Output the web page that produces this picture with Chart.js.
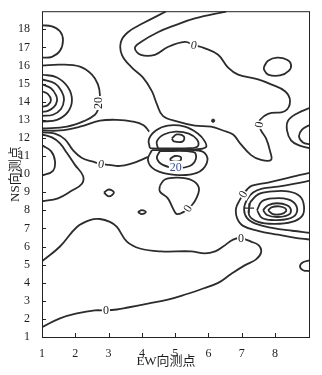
<!DOCTYPE html>
<html>
<head>
<meta charset="utf-8">
<script src="https://cdn.jsdelivr.net/npm/chart.js@4.4.1/dist/chart.umd.min.js"></script>
<style>
  html, body { margin: 0; padding: 0; background: #fff; }
  #wrap { width: 322px; height: 375px; }
</style>
</head>
<body>
<div id="wrap"><canvas id="chart" width="322" height="375"></canvas></div>
<script>
// axis ticks
const xTicks = [1, 2, 3, 4, 5, 6, 7, 8];
const yTicks = [1, 2, 3, 4, 5, 6, 7, 8, 9, 10, 11, 12, 13, 14, 15, 16, 17, 18];

// contour lines as [EW, NS] points
const loopTopLeft = [[1,18.22],[1.30,18.16],[1.54,17.89],[1.63,17.40],[1.54,16.81],[1.30,16.48],[1,16.43]];
const ringB = [[1,15.99],[1.54,16.05],[2.14,15.94],[2.50,15.50],[2.68,14.96],[2.74,14.36],[2.70,13.93],[2.68,13.55],[2.59,13.28],[2.29,12.95],[1.75,12.62],[1,12.52]];
const ellN1 = [[1,15.50],[1.45,15.34],[1.78,14.80],[1.90,14.09],[1.78,13.44],[1.45,13.00],[1,12.90]];
const ellN2 = [[1,15.23],[1.39,15.01],[1.60,14.53],[1.66,14.09],[1.57,13.60],[1.33,13.28],[1,13.22]];
const ellN3 = [[1,14.96],[1.27,14.74],[1.42,14.36],[1.45,14.04],[1.36,13.71],[1.18,13.49],[1,13.44]];
const ellN4 = [[1,14.58],[1.18,14.42],[1.27,14.09],[1.18,13.82],[1,13.71]];
const lineE = [[1,12.41],[1.54,12.41],[2.14,12.62],[2.74,12.95],[3.25,13.00],[3.73,12.90],[4.05,12.70],[4.22,12.35]];
const lineF = [[1,12.30],[1.39,12.24],[1.69,11.92],[1.93,11.32],[2.20,10.89],[2.56,10.67],[2.77,10.56],[3.01,10.51],[3.34,10.45],[3.73,10.61],[4.00,10.80],[4.18,10.95]];
const loopG = [[1,11.59],[1.27,11.27],[1.39,10.72],[1.33,10.18],[1,9.91]];
const loopH = [[1,12.19],[1.30,12.03],[1.54,11.70],[1.75,11.16],[1.99,10.51],[2.23,9.91],[2.20,9.47],[1.90,9.09],[1.48,8.66],[1,8.50]];
const lineTop = [[4.72,18.98],[4.03,18.33],[3.58,17.84],[3.37,17.30],[3.40,16.59],[3.70,15.88],[4.03,15.34],[4.30,14.58],[4.45,13.87],[4.63,13.22],[5.08,12.90],[5.59,12.68],[6.08,12.62],[6.44,12.41],[6.74,12.19],[6.95,11.70],[7.28,11.05],[7.58,10.78],[7.88,10.78],[7.85,11.27],[7.73,11.97],[7.58,12.41],[7.52,12.73],[7.55,13.00],[7.79,13.33],[8.30,13.49],[8.45,14.04],[8.30,14.58],[7.88,14.96],[7.49,15.23],[6.89,15.50],[6.59,15.88],[6.29,16.59],[5.86,16.97],[5.56,17.13],[5.29,17.30],[4.78,17.02],[4.39,16.59],[3.97,16.59],[3.79,16.97],[3.97,17.30],[4.48,17.84],[4.99,18.22],[5.59,18.60],[6.53,18.98]];
const loopTopRight = [[7.67,15.94],[7.79,16.26],[8.06,16.43],[8.36,16.32],[8.48,16.05],[8.42,15.72],[8.15,15.45],[7.79,15.50],[7.67,15.77],[7.67,15.94]];
const arcR1 = [[9.05,13.66],[8.69,13.38],[8.39,12.95],[8.36,12.41],[8.48,11.86],[8.72,11.59],[9.05,11.43]];
const arcR2 = [[9.05,12.73],[8.81,12.46],[8.72,12.08],[8.84,11.75],[9.05,11.65]];
const lobeU1 = [[4.24,11.43],[4.21,11.92],[4.42,12.41],[4.78,12.68],[5.29,12.62],[5.68,12.24],[5.89,11.81],[5.92,11.48],[5.59,11.37],[4.84,11.37],[4.24,11.43]];
const lobeU2 = [[4.48,11.43],[4.45,11.81],[4.66,12.19],[5.02,12.35],[5.41,12.24],[5.65,11.92],[5.68,11.54],[5.44,11.43],[4.48,11.43]];
const lobeU3 = [[4.90,11.97],[5.05,12.19],[5.26,12.08],[5.23,11.81],[4.96,11.81],[4.90,11.97]];
const lobeD1 = [[4.30,11.32],[4.18,10.78],[4.39,10.24],[4.99,9.96],[5.65,10.07],[5.95,10.61],[5.89,11.16],[5.59,11.32],[4.30,11.32]];
const lobeD2 = [[4.54,11.27],[4.45,10.89],[4.63,10.51],[5.02,10.34],[5.44,10.45],[5.62,10.83],[5.56,11.21],[4.54,11.27]];
const lobeD3 = [[4.84,10.83],[4.99,11.00],[5.17,10.94],[5.14,10.72],[4.90,10.72],[4.84,10.83]];
const loopMid = [[4.54,9.36],[4.69,9.70],[5.08,9.80],[5.50,9.66],[5.71,9.26],[5.65,8.71],[5.50,8.28],[5.29,7.95],[5.05,7.79],[4.93,8.12],[4.78,8.66],[4.54,9.04],[4.54,9.36]];
const loopSmall = [[3.88,7.90],[4.00,8.01],[4.12,7.90],[4.00,7.79],[3.88,7.90]];
const loopDiamond = [[2.86,8.98],[3.01,9.15],[3.16,8.98],[3.01,8.77],[2.86,8.98]];
const ringR1 = [[9.05,10.07],[8.75,9.96],[8.30,9.75],[7.79,9.53],[7.31,9.36],[7.16,9.15],[7.04,8.88],[6.95,8.60],[6.83,8.12],[6.86,7.57],[7.04,7.14],[7.49,6.87],[8.09,6.65],[8.57,6.49],[9.05,6.38]];
const ringR2 = [[9.05,9.64],[8.60,9.47],[8.09,9.31],[7.61,9.20],[7.34,8.98],[7.16,8.60],[7.07,8.06],[7.16,7.57],[7.43,7.25],[7.91,7.03],[8.51,6.87],[9.05,6.76]];
const ringR3 = [[7.25,8.44],[7.49,8.88],[7.91,9.04],[8.39,9.04],[8.75,8.77],[8.87,8.22],[8.81,7.68],[8.51,7.36],[8.00,7.25],[7.49,7.36],[7.22,7.74],[7.25,8.44]];
const ringR4 = [[7.46,8.01],[7.61,8.50],[7.97,8.66],[8.39,8.60],[8.63,8.28],[8.63,7.79],[8.39,7.52],[7.97,7.46],[7.61,7.57],[7.46,8.01]];
const ringR5 = [[7.64,8.01],[7.79,8.28],[8.06,8.39],[8.36,8.28],[8.48,8.01],[8.39,7.74],[8.06,7.63],[7.76,7.74],[7.64,8.01]];
const ringR6 = [[7.79,8.01],[7.91,8.17],[8.12,8.22],[8.30,8.12],[8.33,7.95],[8.18,7.79],[7.94,7.79],[7.79,8.01]];
const tongue = [[1,5.18],[1.54,6.00],[2.05,7.08],[2.44,7.46],[2.74,7.52],[3.04,7.36],[3.25,7.08],[3.55,6.27],[3.94,5.89],[4.57,5.73],[5.47,5.73],[5.89,5.62],[6.20,5.73],[6.44,6.00],[6.74,6.38],[6.98,6.45],[7.28,6.27],[7.52,6.05],[7.58,5.67],[7.43,5.29],[7.10,4.97],[6.68,4.48],[6.29,3.99],[5.74,3.61],[5.38,3.39],[4.78,3.06],[4.18,2.85],[3.58,2.63],[3.25,2.52],[2.92,2.47],[2.59,2.47],[2.05,2.30],[1.54,2.03],[1,1.54]];
const arcEdge = [[9.05,5.24],[8.84,5.13],[8.75,4.91],[8.84,4.69],[9.05,4.64]];

const contours = [loopTopLeft, ringB, ellN1, ellN2, ellN3, ellN4, lineE, lineF, loopG, loopH,
  lineTop, loopTopRight, arcR1, arcR2, lobeU1, lobeU2, lobeU3, lobeD1, lobeD2, lobeD3,
  loopMid, loopSmall, loopDiamond, ringR1, ringR2, ringR3, ringR4, ringR5, ringR6, tongue, arcEdge];

const tinyDots = [[6.14,12.95]];
const crossMarks = [[7.22,8.12]];

// contour labels
const labelText = ['20', '0', '0', '20', '0', '0', '0', '0', '0'];
const labelX = [2.70, 5.56, 2.77, 5.02, 7.52, 5.38, 7.04, 6.98, 2.92];
const labelY = [13.93, 17.13, 10.56, 10.40, 12.73, 8.10, 8.88, 6.45, 2.47];
const labelAngle = [-90, 0, 0, 0, -80, -60, -60, 0, 0];

const lineColor = '#2c2c2c';
const serif = "'Liberation Serif', 'Times New Roman', serif";

function toPoints(arr) {
    return arr.map(p => ({ x: p[0], y: p[1] }));
}

const datasets = contours.map(c => ({
    data: toPoints(c),
    showLine: true,
    borderColor: lineColor,
    borderWidth: 1.8,
    pointRadius: 0,
    tension: 0.4,
    fill: false
}));
datasets.push({ data: toPoints(tinyDots), pointRadius: 1.6, backgroundColor: lineColor, borderColor: lineColor, showLine: false });
datasets.push({ data: toPoints(crossMarks), pointStyle: 'cross', pointRadius: 5, borderColor: lineColor, borderWidth: 1.4, showLine: false });

const decorations = {
    id: 'decorations',
    afterDatasetsDraw(chart) {
        const ctx = chart.ctx;
        const xs = chart.scales.x, ys = chart.scales.y;
        const area = chart.chartArea;

        // contour labels with a white gap behind
        labelText.forEach((t, i) => {
            const px = xs.getPixelForValue(labelX[i]);
            const py = ys.getPixelForValue(labelY[i]);
            ctx.save();
            ctx.translate(px, py);
            ctx.rotate(labelAngle[i] * Math.PI / 180);
            ctx.font = (i === 1 || i === 2 ? 'italic ' : '') + '12px ' + serif;
            const w = ctx.measureText(t).width;
            ctx.fillStyle = '#fff';
            ctx.fillRect(-w / 2 - 1, -6, w + 2, 12);
            ctx.fillStyle = i === 3 ? '#2f4f9a' : '#1e1e1e';
            ctx.textAlign = 'center';
            ctx.textBaseline = 'middle';
            ctx.fillText(t, 0, 0.5);
            ctx.restore();
        });

        // frame and inward ticks
        ctx.save();
        ctx.strokeStyle = '#222';
        ctx.lineWidth = 1;
        ctx.strokeRect(area.left + 0.5, area.top + 0.5, area.right - area.left - 1, area.bottom - area.top);
        ctx.beginPath();
        xTicks.forEach(v => {
            const px = Math.round(xs.getPixelForValue(v)) + 0.5;
            ctx.moveTo(px, area.bottom);
            ctx.lineTo(px, area.bottom - 4);
        });
        yTicks.forEach(v => {
            const py = Math.round(ys.getPixelForValue(v)) + 0.5;
            ctx.moveTo(area.left, py);
            ctx.lineTo(area.left + 4, py);
        });
        ctx.stroke();

        // axis titles
        ctx.fillStyle = '#1e1e1e';
        ctx.font = "13px 'Liberation Serif', 'Noto Sans CJK SC', serif";
        ctx.textAlign = 'center';
        ctx.textBaseline = 'middle';
        ctx.fillText('EW向测点', 166, 362);
        ctx.translate(16, (area.top + area.bottom) / 2);
        ctx.rotate(-Math.PI / 2);
        ctx.fillText('NS向测点', 0, 0);
        ctx.restore();
    }
};

new Chart(document.getElementById('chart'), {
    type: 'scatter',
    data: { datasets: datasets },
    options: {
        responsive: false,
        animation: false,
        layout: { padding: { top: 6, right: 12, left: 0, bottom: 0 } },
        plugins: { legend: { display: false }, tooltip: { enabled: false } },
        scales: {
            x: {
                type: 'linear',
                min: 1,
                max: 9.05,
                grid: { display: false },
                border: { display: false },
                afterBuildTicks: s => { s.ticks = xTicks.map(v => ({ value: v })); },
                afterFit: s => { s.height = 38; },
                ticks: { color: '#1e1e1e', padding: 2, font: { family: serif, size: 12 } }
            },
            y: {
                type: 'linear',
                min: 1,
                max: 19,
                grid: { display: false },
                border: { display: false },
                afterBuildTicks: s => { s.ticks = yTicks.map(v => ({ value: v })); },
                afterFit: s => { s.width = 42; },
                ticks: { color: '#1e1e1e', padding: 4, font: { family: serif, size: 12 } }
            }
        }
    },
    plugins: [decorations]
});
</script>
</body>
</html>
